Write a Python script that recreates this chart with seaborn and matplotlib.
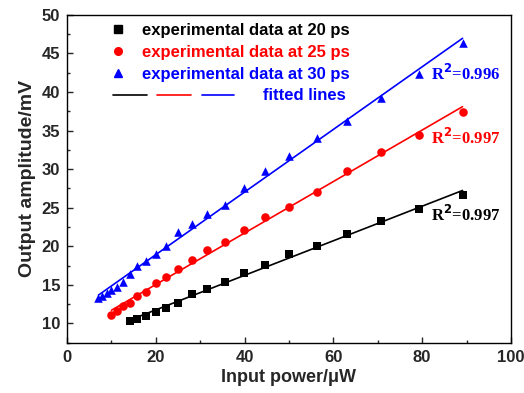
import numpy as np
import pandas as pd
import seaborn as sns
import matplotlib.pyplot as plt
from matplotlib.lines import Line2D

# input power (uW), 1 dB steps
POWER = [7.08, 7.94, 8.91, 10.0, 11.2, 12.6, 14.1, 15.8, 17.8, 20.0, 22.4, 25.1,
         28.2, 31.6, 35.5, 39.8, 44.7, 50.1, 56.2, 63.1, 70.8, 79.4, 89.1]

AMP_20 = [10.36, 10.58, 11.0, 11.5, 12.0, 12.7, 13.8, 14.5, 15.4, 16.5, 17.6,
          19.0, 20.1, 21.6, 23.3, 24.8, 26.6]
AMP_25 = [11.1, 11.6, 12.2, 12.7, 13.5, 14.1, 15.3, 16.0, 17.0, 18.2, 19.5, 20.6,
          22.1, 23.8, 25.1, 27.1, 29.7, 32.2, 34.4, 37.4]
AMP_30 = [13.3, 13.6, 13.9, 14.3, 14.7, 15.4, 16.4, 17.4, 18.1, 19.0, 20.1, 21.8,
          22.9, 24.2, 25.3, 27.5, 29.8, 31.7, 34.0, 36.3, 39.2, 42.3, 46.3]

SERIES = ["experimental data at 20 ps", "experimental data at 25 ps", "experimental data at 30 ps"]
COLORS = ["black", "red", "blue"]
MARKERS = ["s", "o", "^"]
R2 = ["0.997", "0.997", "0.996"]
R2_POS = [(82.0, 24.05), (82.0, 34.0), (82.0, 42.4)]

frames = []
for name, amp in zip(SERIES, [AMP_20, AMP_25, AMP_30]):
    frames.append(pd.DataFrame({"power": POWER[-len(amp):], "amp": amp, "series": name}))
df = pd.concat(frames, ignore_index=True)

sns.set_style("ticks")
plt.rcParams["font.family"] = ["Liberation Sans", "DejaVu Sans"]
plt.rcParams["font.weight"] = "bold"
plt.rcParams["xtick.direction"] = "in"
plt.rcParams["ytick.direction"] = "in"

fig, ax = plt.subplots(figsize=(5.24, 3.93), dpi=100)
fig.subplots_adjust(left=0.128, right=0.975, top=0.962, bottom=0.128)

for name, color, marker in zip(SERIES, COLORS, MARKERS):
    sub = df[df["series"] == name]
    sns.regplot(data=sub, x="power", y="amp", ax=ax, scatter=False, ci=None,
                color=color, line_kws={"lw": 1.2})
    sns.scatterplot(data=sub, x="power", y="amp", ax=ax, color=color, marker=marker,
                    s=38, edgecolor=color, linewidth=0, zorder=3)

for (x, y), r, color in zip(R2_POS, R2, COLORS):
    ax.text(x, y, f"R$^\\mathbf{{2}}$={r}", color=color, fontsize=12, va="center",
            family="Liberation Serif", fontweight="bold")

handles = [Line2D([], [], ls="", marker=m, color=c, markersize=5.5) for m, c in zip(MARKERS, COLORS)]
leg = ax.legend(handles, SERIES, loc="upper left", bbox_to_anchor=(0.063, 1.022),
                frameon=False, handlelength=1.0, handletextpad=0.9, labelspacing=0.43,
                prop={"weight": "bold", "size": 12})
for t, c in zip(leg.get_texts(), COLORS):
    t.set_color(c)

# fitted lines legend row
for (x0, x1), c in zip([(0.104, 0.180), (0.203, 0.279), (0.304, 0.376)], COLORS):
    ax.plot([x0, x1], [0.755, 0.755], color=c, lw=1.2, transform=ax.transAxes)
ax.text(0.441, 0.755, "fitted lines", color="blue", transform=ax.transAxes,
        va="center", fontsize=12, fontweight="bold")

ax.set_xlim(0, 100)
ax.set_ylim(7.5, 50)
ax.set_xticks(np.arange(0, 101, 20))
ax.set_xticks(np.arange(0, 101, 10), minor=True)
ax.set_yticks(np.arange(10, 51, 5))
ax.set_yticks(np.arange(7.5, 50.1, 2.5), minor=True)
ax.tick_params(which="major", length=4, width=1, labelsize=12, pad=5)
ax.tick_params(which="minor", length=2.5, width=1)
for lab in ax.get_xticklabels() + ax.get_yticklabels():
    lab.set_fontweight("bold")
for sp in ax.spines.values():
    sp.set_visible(True)
    sp.set_linewidth(1.0)
    sp.set_color("black")

ax.set_xlabel("Input power/\u03bcW", fontsize=13, fontweight="bold", labelpad=3)
ax.set_ylabel("Output amplitude/mV", fontsize=14, fontweight="bold", labelpad=4)

fig.savefig("out.png", dpi=100)
